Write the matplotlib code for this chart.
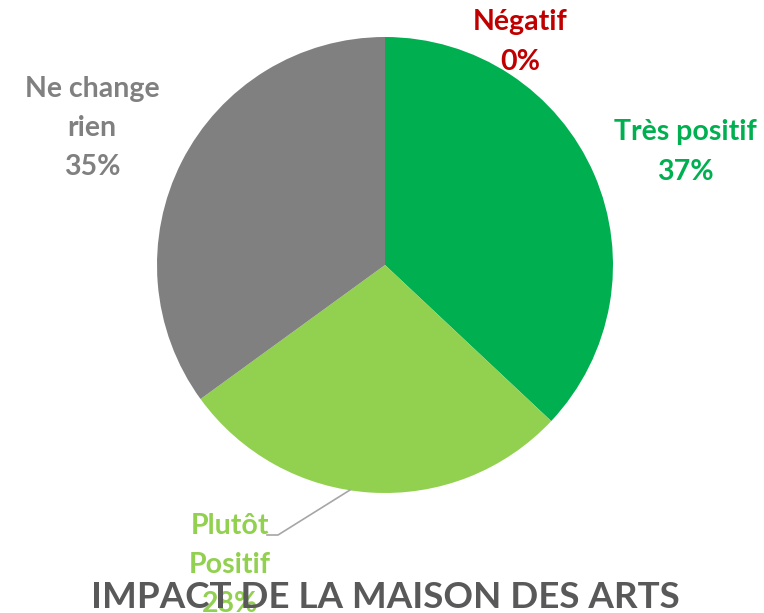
import matplotlib.pyplot as plt

# data
labels = ['Très positif', 'Plutôt\nPositif', 'Ne change\nrien', 'Négatif']
values = [37, 28, 35, 0]
colors = ['#00B050', '#92D050', '#808080', '#C00000']
label_pos = [(685, 152), (230, 565), (92, 128), (520, 42)]
title = 'IMPACT DE LA MAISON DES ARTS'

W, H = 764, 613
fig = plt.figure(figsize=(W / 100, H / 100), dpi=100)
ax = fig.add_axes([0, 0, 1, 1])

cx, cy, r = 385, H - 265, 228
ax.pie(values, colors=colors, startangle=90, counterclock=False,
       center=(cx, cy), radius=r, frame=True,
       wedgeprops=dict(linewidth=0))
ax.set_xlim(0, W)
ax.set_ylim(0, H)
ax.set_aspect('equal')
ax.axis('off')

font = ['Lato', 'DejaVu Sans']
for lab, v, c, (x, y) in zip(labels, values, colors, label_pos):
    ax.text(x, H - y, f'{lab}\n{v}%', color=c, ha='center', va='center',
            fontsize=20.5, fontweight='bold', family=font, linespacing=1.62)

# leader line for "Plutôt Positif"
ax.plot([267, 278, 350], [H - 535, H - 535, H - 490], color='#A6A6A6', lw=1.2)

ax.text(385, H - 597, title, color='#595959', ha='center', va='center',
        fontsize=26.5, fontweight='bold', family=font)

fig.savefig('out.png', dpi=100)
